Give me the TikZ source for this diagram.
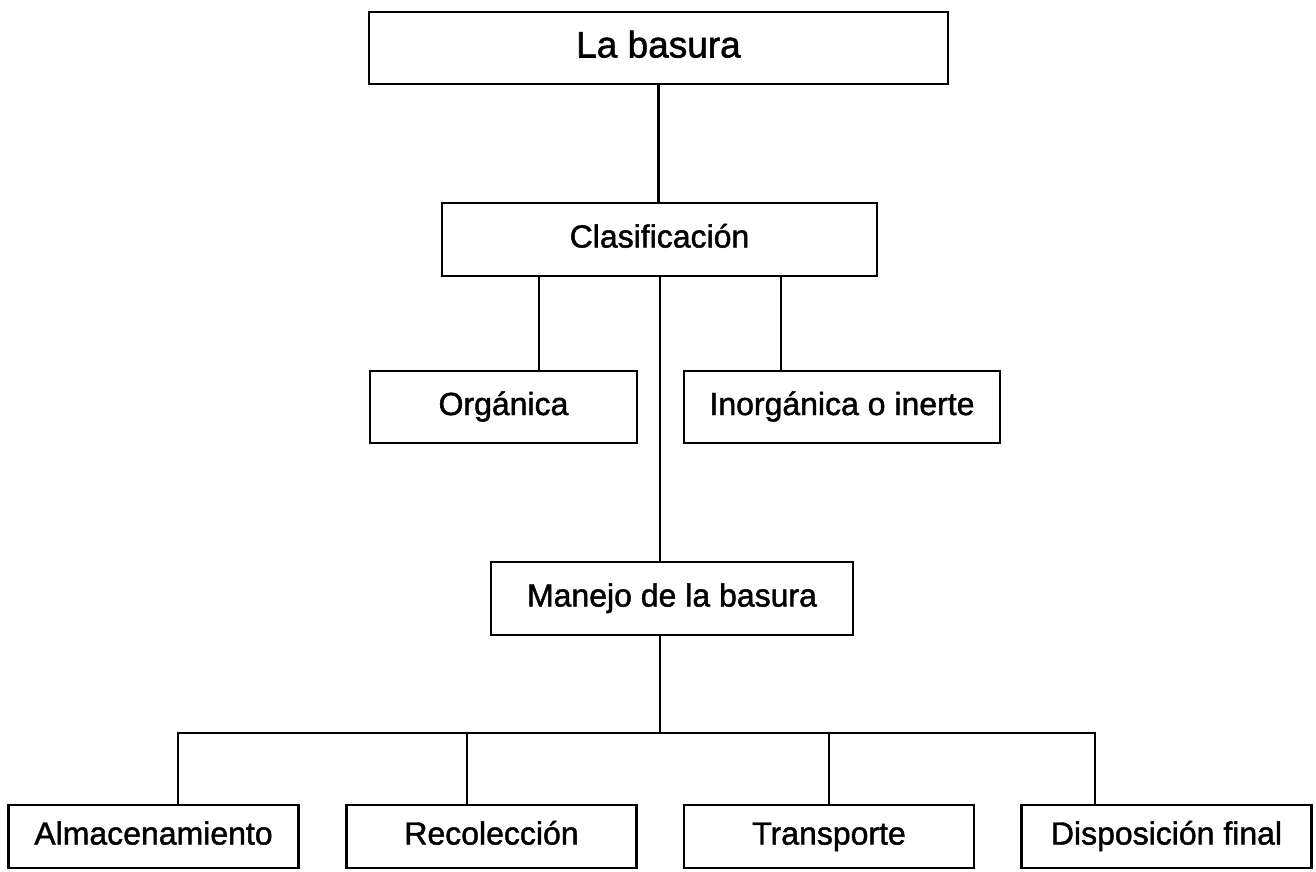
\documentclass[tikz,border=0pt]{standalone}
\usepackage{fontspec}
\setmainfont{Liberation Sans}[BoldFont=Liberation Sans,BoldFeatures={FakeBold=1.4}]
\usepackage{tikz}

\begin{document}
\begin{tikzpicture}[x=1pt,y=-1pt,line width=2.4pt]
\tikzstyle{box}=[draw,rectangle,inner sep=0,line width=2.8pt,text height=24pt,text depth=8pt,font=\fontsize{32}{38}\selectfont\bfseries]
\useasboundingbox (0,0) rectangle (1316,871);
\node[box,minimum width=579,minimum height=72,text height=28pt,text depth=9pt,font=\fontsize{37}{44}\selectfont\bfseries] (basura) at (658.5,48) {La basura};
\node[box,minimum width=435,minimum height=73] (clasif) at (659.5,239.5) {Clasificación};
\node[box,minimum width=267,minimum height=72] (org) at (503.5,407) {Orgánica};
\node[box,minimum width=316,minimum height=72] (inorg) at (842,407) {Inorgánica o inerte};
\node[box,minimum width=362,minimum height=73] (manejo) at (672,598.5) {Manejo de la basura\hspace{28pt}};
\foreach \n/\x/\t in {alm/153.5/Almacenamiento,rec/491.5/Recolección,tra/829/Transporte,dis/1166.5/Disposición final}{
\node[box,minimum width=290,minimum height=63] (\n) at (\x,836.5) {\t};
};
\coordinate (bus) at (0,733);
\draw (basura.south) -- (basura.south |- clasif.north);
\foreach \x/\y in {539/org,781/inorg,660/manejo}{
\draw (\x,0 |- clasif.south) -- (\x,0 |- \y.north);
};
\draw (660,0 |- manejo.south) -- (660,0 |- bus);
\draw (178,0 |- alm.north) -- (178,0 |- bus) -- (1095,0 |- bus) -- (1095,0 |- dis.north);
\foreach \x/\y in {467/rec,829/tra}{
\draw (\x,0 |- bus) -- (\x,0 |- \y.north);
}
\end{tikzpicture}
\end{document}
